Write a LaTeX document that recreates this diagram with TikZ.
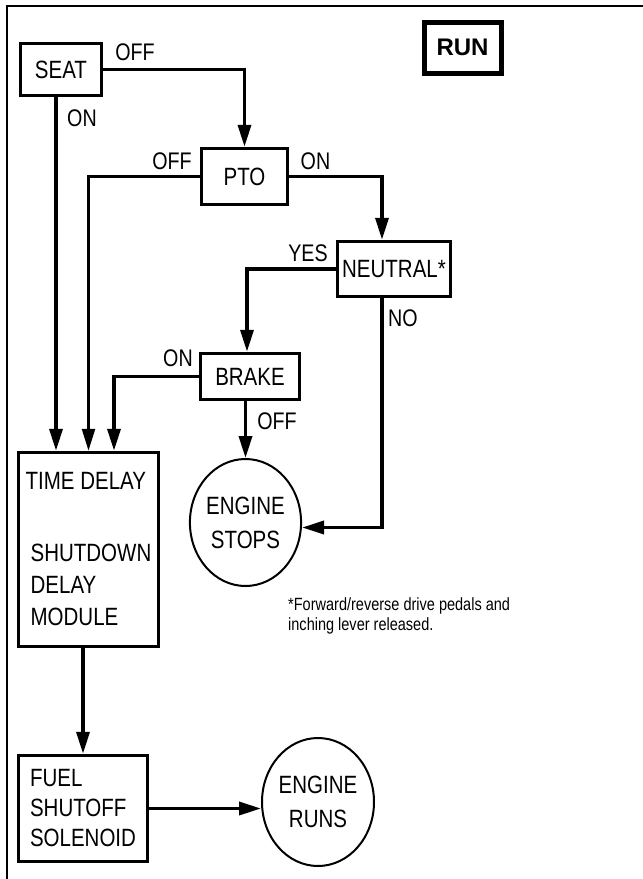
\documentclass[tikz,border=0pt]{standalone}
\usepackage{fontspec}
\setmainfont{Liberation Sans}[FakeStretch=0.82]
\newfontfamily\runfont{Liberation Sans}
\usetikzlibrary{shapes.geometric, arrows.meta, positioning, calc}

\tikzset{
  box/.style={draw, line width=3.5pt, inner sep=4pt, font=\fontsize{25}{30}\selectfont},
  oval/.style={draw, ellipse, line width=2pt, inner sep=0pt, align=center, font=\fontsize{25}{34}\selectfont},
  lbl/.style={inner sep=0pt, font=\fontsize{24}{28}\selectfont},
  flow/.style={line width=3.5pt, -{Triangle[length=22pt,width=13pt]}},
}

\begin{document}
\begin{tikzpicture}[x=1pt, y=1pt]
\useasboundingbox (0,0) rectangle (643,-879);
\draw[line width=2.5pt] (7,-879) -- (7,-6) -- (643,-6);

\node[draw, line width=5pt, minimum width=77pt, minimum height=51pt, font=\runfont\bfseries\fontsize{24}{28}\selectfont] (run) at (462.5,-47.5) {RUN};

\node[box, minimum width=81pt, minimum height=52pt] (seat) at (61,-69.5) {SEAT};
\node[box, minimum width=86pt, minimum height=56pt] (pto) at (244.5,-176.5) {PTO};
\node[box, minimum width=113pt, minimum height=55pt] (neutral) at (394,-269) {NEUTRAL*};
\node[box, minimum width=99pt, minimum height=46pt] (brake) at (250,-376.5) {BRAKE};
\node[box, minimum width=140pt, minimum height=194pt, align=left, font=\fontsize{25}{32}\selectfont] (tdm) at (88.5,-549.5)
  {TIME DELAY\\[40pt]\hspace*{5pt}SHUTDOWN\\\hspace*{5pt}DELAY\\\hspace*{5pt}MODULE};
\node[box, minimum width=129pt, minimum height=106pt, align=left] (fuel) at (83,-808.5) {FUEL\\SHUTOFF\\SOLENOID};

\node[oval, minimum width=111pt, minimum height=127pt] (stops) at (245.5,-522.5) {ENGINE\\STOPS};
\node[oval, minimum width=112pt, minimum height=128pt] (runs) at (318,-802) {ENGINE\\RUNS};

% switch states
\node[lbl] (seatoff) at (135,-52) {OFF};
\node[lbl] (seaton) at (82,-118.5) {ON};
\node[lbl] (ptooff) at (172,-161.5) {OFF};
\node[lbl] (ptoon) at (315.5,-161.5) {ON};
\node[lbl] (ntyes) at (308,-253.5) {YES};
\node[lbl] (ntno) at (403,-318) {NO};
\node[lbl] (brkon) at (178,-358) {ON};
\node[lbl] (brkoff) at (277,-421.5) {OFF};

\node[anchor=north west, align=left, inner sep=0pt, font=\fontsize{17.7}{20}\selectfont] (note) at (288,-597)
  {*Forward/reverse drive pedals and\\inching lever released.};

\draw[flow] (seat.east) -| (pto.north);
\draw[flow] ([xshift=-5pt]seat.south) -- ([xshift=-5pt]seat.south |- tdm.north);
\draw[flow, line width=2.5pt] (pto.west) -| (tdm.north);
\draw[flow] (pto.east) -| ([xshift=-12pt]neutral.north);
\draw[flow] (neutral.west) -| ([xshift=-3pt]brake.north);
\draw[flow] ([xshift=-12pt]neutral.south) |- ([yshift=-5pt]stops.east);
\draw[flow] (brake.west) -| ([xshift=25.5pt]tdm.north);
\draw[flow] (stops.north |- brake.south) -- (stops.north);
\draw[flow] (fuel.north |- tdm.south) -- (fuel.north);
\draw[flow] (fuel.east) -- (runs.west |- fuel.east);
\end{tikzpicture}
\end{document}
